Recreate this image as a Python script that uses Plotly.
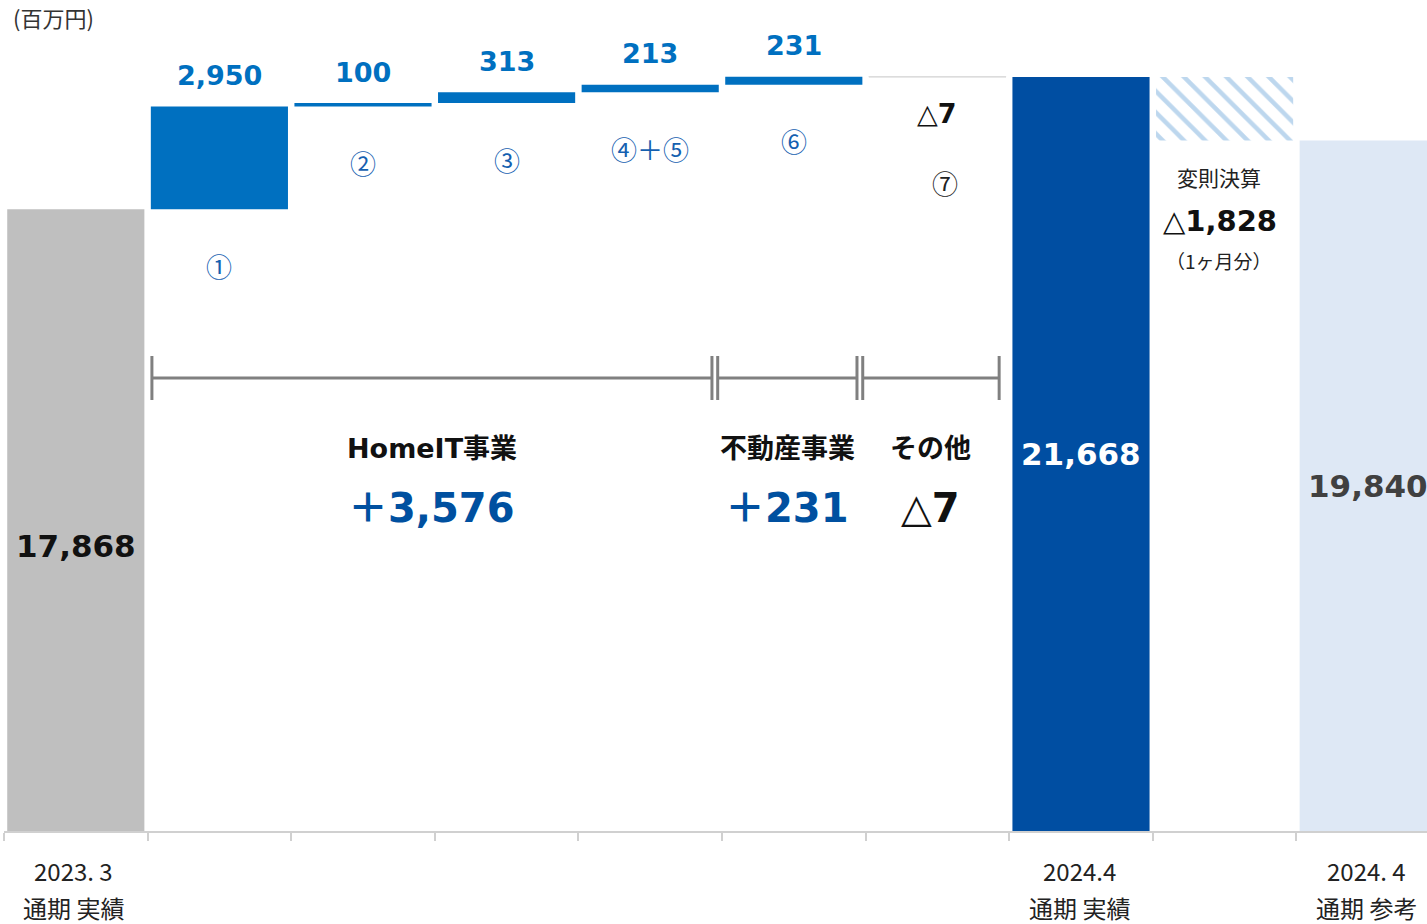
import plotly.graph_objects as go

# ---------------- data ----------------
categories = ["2023.3 通期 実績", "①", "②", "③", "④+⑤", "⑥", "⑦",
              "2024.4 通期 実績", "変則決算", "2024.4 通期 参考"]
start_value = 17868
deltas = [2950, 100, 313, 213, 231, -7]
total_value = 21668
adjustment = -1828
reference_value = 19840

delta_labels = ["2,950", "100", "313", "213", "231", "△<b>7</b>"]
step_labels = ["①", "②", "③", "④＋⑤", "⑥", "⑦"]
total_labels = ["17,868", "21,668", "19,840"]
adjust_title = "変則決算"
adjust_label = "△<b>1,828</b>"
adjust_note = "（1ヶ月分）"
segments = ["HomeIT事業", "不動産事業", "その他"]
segment_values = ["<b>＋3,576</b>", "<b>＋231</b>", "△<b>7</b>"]
axis_top = ["2023. 3", "2024.4", "2024. 4"]
axis_bottom = ["通期 実績", "通期 実績", "通期 参考"]
unit_label = "(百万円)"

# ---------------- build bars ----------------
bases, heights = [0], [start_value]
running = start_value
for d in deltas:
    bases.append(running)
    heights.append(d)
    running += d
bases += [0, total_value, 0]
heights += [total_value, adjustment, reference_value]

colors = ["#BFBFBF"] + ["#0070C0"] * 5 + ["#D9D9D9", "#004EA2", "#BDD7EE", "#DEE8F5"]
line_w = [0, 0, 0, 0, 0, 0, 1, 0, 0, 0]
shapes_pat = [""] * 8 + ["\\", ""]

W, H = 1427, 924
M_L, M_B = 4, 93
PLOT_H = H - M_B
k = 754 / total_value           # px per unit
ymax = PLOT_H / k
xmax = -0.5 + (W - M_L) / 143.6


def yv(px):
    return (PLOT_H - px) / k


fig = go.Figure(go.Bar(
    x=categories, y=heights, base=bases, width=0.955,
    marker=dict(color=colors,
                line=dict(width=line_w, color="#D9D9D9"),
                pattern=dict(shape=shapes_pat, size=15, solidity=0.3, fillmode="replace")),
    hoverinfo="skip",
))

NUM = "DejaVu Sans, Noto Sans CJK JP"
CJK = "Noto Sans CJK JP, DejaVu Sans"
ann = []

# delta value labels and step labels
for i, d in enumerate(deltas):
    cat = categories[i + 1]
    lo, hi = min(bases[i + 1], bases[i + 1] + d), max(bases[i + 1], bases[i + 1] + d)
    if d >= 0:
        ann.append(dict(x=cat, y=hi, yshift=31, text=f"<b>{delta_labels[i]}</b>",
                        font=dict(family=NUM, size=27, color="#0070C0")))
        ann.append(dict(x=cat, y=lo, yshift=-56, text=step_labels[i],
                        font=dict(family=CJK, size=26, color="#1560B0")))
    else:
        ann.append(dict(x=cat, y=lo, yshift=-36, text=delta_labels[i],
                        font=dict(family=NUM, size=27, color="#111111")))
        ann.append(dict(x=cat, y=lo, yshift=-105, xshift=8, text=step_labels[i],
                        font=dict(family=CJK, size=26, color="#222222")))

# totals
ann.append(dict(x=categories[0], y=start_value / 2, yshift=-26, text=f"<b>{total_labels[0]}</b>",
                font=dict(family=NUM, size=31, color="#111111")))
ann.append(dict(x=categories[7], y=total_value / 2, text=f"<b>{total_labels[1]}</b>",
                font=dict(family=NUM, size=31, color="white")))
ann.append(dict(x=categories[9], y=reference_value / 2, text=f"<b>{total_labels[2]}</b>",
                font=dict(family=NUM, size=31, color="#404040")))

# adjustment labels
adj_low = total_value + adjustment
ann.append(dict(x=categories[8], y=adj_low, yshift=-36, xshift=-6, text=adjust_title,
                font=dict(family=CJK, size=21, color="#222222")))
ann.append(dict(x=categories[8], y=adj_low, yshift=-80, xshift=-5, text=adjust_label,
                font=dict(family=NUM, size=29, color="#111111")))
ann.append(dict(x=categories[8], y=adj_low, yshift=-120, xshift=-6, text=adjust_note,
                font=dict(family=CJK, size=19, color="#222222")))

# segment brackets
spans = [(0.53, 4.43), (4.47, 5.44), (5.48, 6.43)]
shapes = []
yb, yt0, yt1 = yv(378), yv(356), yv(400)
for (a, b), name, val in zip(spans, segments, segment_values):
    shapes.append(dict(type="line", xref="x", yref="y", x0=a, x1=b, y0=yb, y1=yb,
                       line=dict(color="#808080", width=3)))
    for xx in (a, b):
        shapes.append(dict(type="line", xref="x", yref="y", x0=xx, x1=xx, y0=yt0, y1=yt1,
                           line=dict(color="#808080", width=3)))
    c = (a + b) / 2
    ann.append(dict(x=c, y=yv(448), text=f"<b>{name}</b>",
                    font=dict(family=NUM, size=27, color="#111111")))
    col = "#111111" if val.startswith("△") else "#0050A0"
    ann.append(dict(x=c, y=yv(508), text=val,
                    font=dict(family=NUM, size=40, color=col)))

# x axis labels
for idx, t, b in zip([0, 7, 9], axis_top, axis_bottom):
    ann.append(dict(x=categories[idx], xref="x", yref="paper", y=(PLOT_H - 870) / PLOT_H,
                    xshift=-2, text=t, font=dict(family=CJK, size=24, color="#222222")))
    ann.append(dict(x=categories[idx], xref="x", yref="paper", y=(PLOT_H - 908) / PLOT_H,
                    xshift=-2, text=b, font=dict(family=CJK, size=24, color="#222222")))

ann.append(dict(x=(11 - M_L) / (W - M_L), xref="paper", xanchor="left",
                y=(PLOT_H - 17) / PLOT_H, yref="paper", text=unit_label,
                font=dict(family=CJK, size=22, color="#333333")))

for a in ann:
    a.setdefault("xref", "x")
    a.setdefault("yref", "y")
    a.setdefault("showarrow", False)
    a.setdefault("yanchor", "middle")
    a.setdefault("xanchor", "center")

fig.update_layout(
    width=W, height=H,
    margin=dict(l=M_L, r=0, t=0, b=M_B),
    plot_bgcolor="white", paper_bgcolor="white",
    showlegend=False,
    annotations=ann, shapes=shapes,
    xaxis=dict(type="category", range=[-0.5, xmax], showgrid=False,
               showline=True, linecolor="#D0D0D0", linewidth=2,
               ticks="outside", tickson="boundaries", ticklen=8,
               tickcolor="#D0D0D0", tickwidth=2, showticklabels=False),
    yaxis=dict(range=[0, ymax], visible=False, showgrid=False),
)

fig.write_html(
    "out.html",
    config={"displayModeBar": False},
    post_script="document.body.style.margin='0';document.body.style.overflow='hidden';",
)
